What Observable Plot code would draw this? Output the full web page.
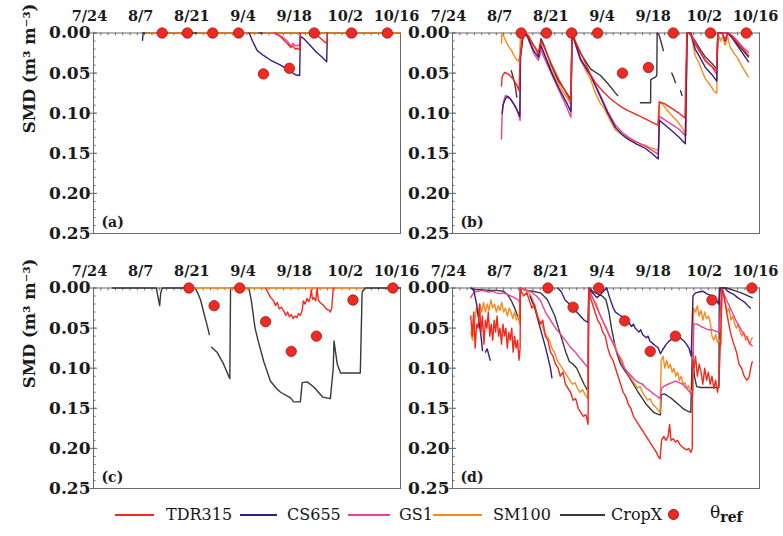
<!DOCTYPE html>
<html><head><meta charset="utf-8">
<script src="https://cdn.jsdelivr.net/npm/d3@7"></script>
<script src="https://cdn.jsdelivr.net/npm/@observablehq/plot@0.6"></script>
<style>
body{margin:0;background:#fff;}
#wrap{position:relative;width:783px;height:536px;overflow:hidden;font-family:"DejaVu Serif",serif;background:#fff;}
.panel{position:absolute;}
.sw{position:absolute;height:0;border-top:2px solid;}
.lt{position:absolute;font-size:16px;color:#151515;line-height:20px;white-space:nowrap;}
.dotl{position:absolute;width:11px;height:11px;border-radius:50%;background:#ee2a22;border:1px solid #9a1a14;box-sizing:border-box;}
</style></head><body><div id="wrap"></div>
<script>
// ---- axis / category definitions ----
const tickDays = [0, 14, 28, 42, 56, 70, 84];
const tickLabels = ["7/24", "8/7", "8/21", "9/4", "9/18", "10/2", "10/16"];
const yTicks = [0, 0.05, 0.10, 0.15, 0.20, 0.25];
const yTickLabels = ["0.00", "0.05", "0.10", "0.15", "0.20", "0.25"];
const sensors = ["TDR315", "CS655", "GS1", "SM100", "CropX"];
const colors = {TDR315: "#f5281c", CS655: "#3b1c7a", GS1: "#ec3d9c", SM100: "#fb8a1d", CropX: "#383838"};

// ---- reference SMD (theta_ref), days after 7/24 ----
const REF_AB_T = [18.8, 25.7, 32.6, 39.7, 46.5, 53.6, 60.4, 70.6, 80.4];
const REF_A_V = [0, 0, 0, 0, 0.051, 0.044, 0, 0, 0];
const REF_B_V = [0, 0, 0, 0, 0.050, 0.043, 0, 0, 0];
const REF_CD_T = [26.1, 33.0, 40.0, 47.1, 54.1, 61.0, 71.0, 81.9];
const REF_C_V = [0, 0.022, 0, 0.042, 0.079, 0.060, 0.015, 0];
const REF_D_V = [0, 0.024, 0, 0.041, 0.079, 0.060, 0.015, 0];

// ---- panel (a) [day, SMD] ----
const A_TDR315 = [[49.8,0],[51.5,0.006],[52.5,0.011],[53.2,0.014],[54,0.018],[54.6,0.016],[55.2,0.02],[55.8,0.019],[56.4,0.021],[56.6,0],[57,null],[60.2,0],[61.5,0.004],[62.5,0.008],[63.5,0.012],[63.9,0.013],[64,0]];
const A_CS655 = [[13.4,0.009],[13.6,0],[14,0],[14.1,null],[42.6,0],[43.5,0.01],[44.8,0.022],[46.5,0.028],[48.5,0.034],[51.2,0.04],[53.9,0.048],[55.2,0.052],[56.4,0.053],[56.6,0.004],[57.5,0.007],[59,0.014],[61,0.024],[62.5,0.03],[63.8,0.036],[64,0]];
const A_GS1 = [[49.2,0],[50.5,0.002],[51.7,0.005],[53,0.01],[53.9,0.016],[54.6,0.013],[55.3,0.016],[56.4,0.015],[56.6,0]];
const A_SM100 = [[13.4,0],[27,0],[27.3,null],[28.5,0],[45,0],[45.3,null],[46.5,0],[84,0]];
const A_CropX = [[13.4,0],[84,0]];

// ---- panel (b) ----
const B_TDR315 = [[13.4,0.066],[13.6,0.054],[14.3,0.049],[15.5,0.052],[16.5,0.057],[17.5,0.064],[18.2,0.072],[18.5,0.03],[19.2,0],[20.5,0.002],[22,0.014],[23.5,0.024],[24.1,0.01],[25,0.017],[27,0.038],[29,0.057],[31,0.074],[32.4,0.086],[32.7,0],[34,0.014],[36,0.034],[37.8,0.052],[39.1,0.062],[41,0.072],[43,0.081],[44.6,0.087],[46.5,0.093],[48.2,0.097],[50.5,0.102],[52.8,0.107],[54.5,0.111],[56.2,0.115],[56.6,0.086],[58,0.088],[60,0.094],[62,0.1],[63.6,0.106],[64.1,0],[65,0],[66.4,0.014],[68,0.026],[69.2,0.035],[71,0.042],[72.3,0.048],[72.6,0],[73.8,0],[74.6,0.008],[75.3,0],[76.5,0.004],[78,0.012],[79.5,0.02],[81,0.028]];
const B_CS655 = [[13.6,0.1],[13.8,0.09],[14.5,0.082],[15,0.079],[16,0.083],[17,0.09],[18.1,0.1],[18.4,0.104],[18.6,0.03],[19.4,0],[20.5,0.004],[22.2,0.022],[23.5,0.03],[24.1,0.015],[25,0.025],[27,0.048],[29,0.068],[31,0.085],[32.4,0.098],[32.7,0],[35,0.032],[37.8,0.053],[40.5,0.08],[42.5,0.1],[44.6,0.118],[46.5,0.127],[48.2,0.133],[50.5,0.139],[52.8,0.144],[54.5,0.15],[56.3,0.157],[56.6,0.109],[58,0.114],[60,0.122],[62,0.13],[63.7,0.138],[64.2,0],[65.2,0],[66.4,0.02],[68,0.033],[69.2,0.043],[71,0.052],[72.3,0.06],[72.6,0],[73.8,0],[74.6,0.01],[75.3,0],[76.5,0.006],[78,0.016],[79.5,0.026],[81,0.036]];
const B_GS1 = [[13.4,0.132],[13.6,0.1],[14,0.085],[14.5,0.078],[15.5,0.08],[16.5,0.087],[17.5,0.095],[18.3,0.105],[18.5,0.109],[18.6,0.03],[19.4,0],[20.5,0.005],[22.2,0.025],[23.5,0.034],[24.1,0.02],[25,0.03],[27,0.05],[29,0.07],[31,0.09],[32.4,0.105],[32.7,0],[35,0.034],[37.8,0.053],[40.5,0.078],[42.5,0.098],[44.6,0.115],[46.5,0.124],[48.2,0.13],[50.5,0.136],[52.8,0.141],[54.5,0.146],[56.3,0.151],[56.6,0.104],[58,0.108],[60,0.114],[62,0.12],[63.7,0.128],[64.2,0],[65.2,0],[66.4,0.012],[68,0.025],[69.2,0.034],[71,0.042],[72.3,0.052],[72.6,0],[73.8,0],[75.3,0],[76.5,0.003],[78,0.01],[79.5,0.018],[81,0.024]];
const B_SM100 = [[13.4,0.013],[13.5,0],[14,0.004],[14.8,0.012],[15.5,0.018],[16.2,0.022],[16.8,0.028],[17.5,0.033],[18,0.035],[18.4,0.03],[18.6,0],[20,0],[21,0.004],[22.5,0.018],[23.8,0.028],[24.2,0.015],[25.5,0.03],[27.5,0.05],[29.5,0.068],[31.5,0.082],[32.4,0.09],[32.7,0],[33.5,0.012],[35,0.032],[36.5,0.047],[37.8,0.058],[39,0.074],[40.5,0.088],[41.5,0.094],[42.5,0.103],[43.5,0.112],[44.6,0.121],[45.5,0.124],[46.5,0.127],[47.5,0.13],[48.2,0.131],[49.5,0.135],[50.5,0.136],[51.5,0.139],[52.8,0.14],[54,0.143],[55,0.144],[56,0.146],[56.4,0.145],[56.6,0.086],[57.5,0.089],[58.5,0.095],[60,0.103],[61.5,0.11],[63,0.119],[63.9,0.128],[64.2,0],[65.2,0],[66.4,0.028],[67.5,0.038],[68.5,0.05],[69.2,0.057],[70.5,0.065],[71.5,0.072],[72.3,0.075],[72.6,0],[73.3,0.01],[73.8,0.005],[74.6,0.015],[75.3,0.005],[76,0.018],[77,0.025],[78,0.031],[79,0.04],[80.2,0.049],[81,0.055]];
const B_CropX = [[16.1,0.047],[16.5,0.054],[17,0.062],[17.6,0.08],[17.7,null],[19.5,0],[21,0.006],[22.5,0.018],[23.8,0.03],[24.2,0.007],[25,0.015],[27,0.04],[29,0.06],[31,0.073],[32.4,0.083],[32.7,0],[33.5,0.01],[35,0.025],[37.8,0.045],[40.5,0.053],[42.5,0.063],[44.6,0.075],[45.2,0.078],[45.3,null],[51.4,0.087],[54.2,0.087],[54.25,0.058],[55.5,0.055],[55.9,0.053],[56,0],[56.5,0.002],[57,0.01],[57.7,0.022],[57.8,null],[60,0.05],[60.5,0.055],[61,0.062],[61.1,null],[62.4,0.072],[62.8,0.078],[62.9,null],[64.7,0],[66.4,0.01],[68,0.022],[69.2,0.03],[71,0.038],[72.3,0.045],[72.6,0],[73.8,0],[75.3,0],[76.5,0.005],[78,0.014],[79.5,0.022],[81,0.03]];

// ---- panel (c) ----
const C_TDR315 = [[47.1,0],[47.8,0.006],[48.5,0.012],[49.3,0.016],[49.8,0.022],[50.3,0.018],[50.8,0.026],[51.4,0.024],[52.1,0.029],[52.6,0.034],[53.1,0.03],[53.6,0.036],[54.1,0.033],[54.6,0.038],[55.1,0.035],[55.6,0.037],[56.1,0.032],[56.6,0.034],[57.1,0.028],[57.4,0.016],[57.9,0.02],[58.4,0.013],[58.9,0.017],[59.3,0.012],[59.6,0.002],[59.9,0.014],[60.3,0.012],[60.8,0.016],[61.2,0],[61.5,0.015],[62,0.018],[62.5,0.02],[63,0.022],[63.5,0.025],[64,0.027],[64.5,0.028],[64.8,0.03],[65.2,0.025],[65.6,0]];
const C_SM100 = [[27,0],[73.5,0]];
const C_CropX = [[5.1,0],[17.2,0],[17.6,0.01],[18.1,0.022],[18.4,0.006],[18.8,0],[27.8,0],[28.5,0.006],[29.3,0.015],[30.3,0.033],[31,0.045],[31.7,0.058],[31.8,null],[32.3,0.074],[33.8,0.08],[35.6,0.095],[37.3,0.113],[37.5,0],[42.5,0],[43.2,0.016],[44.2,0.05],[45,0.065],[46.6,0.092],[48.4,0.116],[50,0.125],[51.2,0.13],[53.9,0.137],[54.8,0.142],[56.6,0.142],[57.1,0.118],[58.5,0.117],[60.4,0.124],[62.7,0.136],[64.8,0.138],[65.6,0.1],[65.8,0.066],[66.7,0.095],[67.6,0.106],[73,0.106],[73.5,0.005],[74.4,0],[84,0]];

// ---- panel (d) ----
const D_TDR315 = [[5,0.035],[5.4,0.06],[5.8,0.03],[6.2,0.075],[6.6,0.045],[7,0.05],[7.4,0.02],[7.8,0.055],[8.2,0.035],[8.6,0.07],[9,0.04],[9.4,0.05],[9.8,0.03],[10.2,0.06],[10.6,0.045],[11,0.065],[11.4,0.04],[11.8,0.055],[12.2,0.035],[12.6,0.06],[13,0.05],[13.4,0.07],[13.8,0.045],[14.2,0.06],[14.6,0.05],[15,0.075],[15.4,0.055],[15.8,0.065],[16.2,0.05],[16.6,0.08],[17,0.06],[17.4,0.075],[17.8,0.065],[18.2,0.09],[18.5,0.075],[18.6,0],[18.7,0.003],[19.5,0.01],[20.3,0.006],[21,0.015],[21.7,0.025],[22.4,0.02],[23.2,0.035],[24,0.045],[24.7,0.04],[25.4,0.06],[26.1,0.065],[26.8,0.08],[27.5,0.085],[28.2,0.095],[28.9,0.1],[29.5,0.11],[30.2,0.105],[30.9,0.12],[31.6,0.125],[32.3,0.13],[33,0.14],[33.7,0.138],[34.4,0.15],[35.1,0.155],[35.8,0.16],[36.5,0.158],[37.1,0.17],[37.3,0],[37.6,0.01],[38.3,0.02],[39,0.03],[39.7,0.04],[40.4,0.045],[41.1,0.055],[41.8,0.06],[42.5,0.075],[43.2,0.085],[43.9,0.09],[44.6,0.1],[45.3,0.11],[46,0.12],[46.7,0.13],[47.4,0.135],[48.1,0.145],[48.8,0.15],[49.5,0.16],[50.2,0.165],[50.9,0.17],[51.6,0.175],[52.3,0.18],[53,0.185],[53.7,0.19],[54.4,0.195],[55.1,0.2],[55.8,0.205],[56.3,0.21],[56.8,0.213],[57.2,0.19],[57.8,0.185],[58.4,0.19],[59,0.185],[59.4,0.17],[59.8,0.19],[60.4,0.188],[61,0.192],[61.6,0.19],[62.2,0.195],[62.8,0.198],[63.4,0.2],[64,0.202],[64.6,0.2],[65.2,0.205],[65.6,0.2],[65.7,0.09],[66.1,0.1],[66.5,0.085],[67,0.11],[67.5,0.095],[68,0.105],[68.5,0.12],[69,0.1],[69.5,0.115],[70,0.105],[70.5,0.12],[71,0.11],[71.5,0.125],[72,0.115],[72.5,0.13],[72.9,0.12],[73.8,0],[74.3,0.01],[75,0.03],[75.6,0.045],[76.3,0.06],[77,0.07],[77.7,0.08],[78.4,0.095],[79.1,0.1],[79.8,0.11],[80.5,0.115],[81.1,0.112],[81.6,0.1],[82,0.092]];
const D_CS655 = [[5,0],[5.8,0.003],[6.6,0.02],[7.2,0.04],[7.8,0.06],[8.2,0.078],[8.3,null],[9,0.08],[9.5,0.076],[10.3,0.09],[10.4,null],[21.2,0.01],[22.5,0.025],[24,0.05],[25.5,0.075],[26.8,0.1],[27.2,0.112],[27.3,null],[28.8,0],[29.8,0.005],[30.8,0.015],[32,0.02],[33,0.026],[34,0.03],[35,0.035],[36,0.04],[37.1,0.043],[37.3,0],[38.3,0.006],[39.5,0.012],[40.5,0.008],[41.5,0.003],[42.2,0],[43,0.012],[44,0.025],[44.6,0.03],[45.5,0.033],[46.5,0.036],[47.3,0.04],[48.2,0.043],[49,0.048],[49.5,0.045],[50,0.05],[51,0.055],[51.5,0.052],[52,0.058],[53,0.062],[53.5,0.06],[54,0.066],[55,0.07],[55.5,0.072],[56.2,0.074],[56.9,0.082],[57.5,0.077],[58.5,0.07],[59.3,0.066],[60,0.064],[60.7,0.062],[61.3,0.06],[62,0.062],[62.5,0.063],[63.3,0.066],[64,0.07],[64.7,0.075],[65.3,0.085],[65.8,0.01],[66.5,0.006],[67.5,0.005],[68.5,0.004],[69.5,0.007],[70.5,0.009],[71.5,0.012],[72.3,0.016],[72.8,0.02],[73.3,0],[74.5,0],[75.3,0.004],[76,0.006],[77,0.008],[78,0.012],[79,0.015],[80,0.018],[80.8,0.022],[81.5,0.025]];
const D_GS1 = [[5,0.012],[5.5,0.008],[6,0.005],[7,0.004],[8,0.003],[9,0.004],[10,0.005],[11,0.004],[12,0.006],[13,0.007],[14,0.006],[15,0.008],[16,0.01],[17,0.012],[18,0.015],[18.5,0.02],[18.6,0],[20,0.002],[21.5,0.005],[23,0.01],[24.1,0.016],[25.4,0.03],[26.8,0.04],[28.2,0.05],[29.6,0.058],[31,0.066],[32.3,0.074],[33.6,0.08],[35,0.088],[36.3,0.095],[37.1,0.1],[37.3,0],[38,0.008],[39,0.02],[40,0.03],[41,0.04],[42,0.05],[43,0.06],[44,0.07],[45,0.08],[46,0.09],[47,0.1],[48,0.105],[49,0.11],[50,0.115],[51,0.118],[52,0.12],[53,0.125],[54,0.128],[55,0.132],[56,0.135],[56.8,0.138],[57.2,0.125],[58,0.122],[59,0.12],[60,0.118],[61,0.116],[62,0.118],[63,0.12],[64,0.125],[65,0.13],[65.7,0.135],[66,0.045],[67,0.045],[68,0.048],[69,0.05],[70,0.052],[71,0.052],[72,0.054],[73,0.055],[73.6,0],[74.5,0.01],[75.5,0.02],[76.5,0.03],[77.5,0.04],[78.5,0.048],[79.5,0.056],[80.5,0.062],[81.5,0.07],[82,0.072]];
const D_SM100 = [[5,0.055],[5.5,0.065],[6,0.045],[6.5,0.025],[7,0.035],[7.5,0.02],[8,0.03],[8.5,0.018],[9,0.03],[9.5,0.02],[10,0.028],[10.5,0.015],[11,0.025],[11.5,0.02],[12,0.03],[12.5,0.022],[13,0.028],[13.5,0.018],[14,0.03],[14.5,0.025],[15,0.035],[15.5,0.025],[16,0.03],[16.5,0.038],[17,0.03],[17.5,0.04],[18,0.035],[18.4,0.045],[18.6,0],[19.5,0.002],[20.5,0.005],[21.5,0.01],[22.2,0.018],[23,0.03],[23.7,0.04],[24.4,0.045],[25.1,0.055],[25.8,0.06],[26.5,0.065],[27.2,0.075],[27.9,0.08],[28.6,0.09],[29.3,0.095],[30,0.1],[30.7,0.105],[31.4,0.11],[32.1,0.115],[32.8,0.12],[33.5,0.118],[34.2,0.125],[34.9,0.13],[35.6,0.127],[36.3,0.133],[37,0.138],[37.3,0.005],[38,0.01],[38.7,0.015],[39.4,0.02],[40.1,0.03],[40.8,0.038],[41.5,0.045],[42.2,0.05],[42.9,0.06],[43.6,0.065],[44.3,0.07],[45,0.08],[45.7,0.085],[46.4,0.09],[47.1,0.1],[47.8,0.105],[48.5,0.11],[49.2,0.115],[49.9,0.12],[50.6,0.125],[51.3,0.123],[52,0.13],[52.7,0.135],[53.4,0.14],[54.1,0.138],[54.8,0.145],[55.5,0.148],[56.2,0.152],[56.8,0.155],[57.1,0.09],[57.6,0.085],[58.1,0.1],[58.6,0.09],[59.1,0.1],[59.6,0.095],[60.1,0.105],[60.6,0.1],[61.1,0.11],[61.6,0.105],[62.1,0.115],[62.6,0.11],[63.1,0.12],[63.6,0.118],[64.1,0.125],[64.6,0.122],[65.2,0.13],[65.7,0.127],[66,0.025],[66.5,0.03],[67,0.022],[67.5,0.035],[68,0.028],[68.5,0.04],[69,0.03],[69.5,0.038],[70,0.035],[70.5,0.042],[71,0.06],[71.5,0.065],[72,0.058],[72.5,0.068],[73,0.065],[73.5,0.07],[73.7,0],[74.2,0.01],[74.7,0.02],[75.2,0.03],[75.7,0.025],[76.2,0.04],[76.7,0.035],[77.2,0.045],[77.7,0.05],[78.2,0.045],[78.7,0.055],[79.2,0.06],[79.7,0.055],[80.2,0.065],[80.7,0.06],[81.2,0.07],[81.7,0.065],[82,0.062]];
const D_CropX = [[5.3,0],[6,0.002],[8,0.002],[10,0.003],[12,0.003],[14,0.004],[15,0.008],[16,0.015],[17,0.025],[17.8,0.035],[18.3,0.04],[18.5,0],[20,0.003],[22,0.004],[24,0.006],[25,0.01],[26,0.015],[27,0.025],[28,0.035],[29,0.05],[30,0.065],[31,0.08],[32,0.092],[33,0.095],[34,0.1],[35,0.11],[36,0.12],[37,0.128],[37.3,0],[38,0.003],[39,0.006],[40,0.008],[41,0.01],[42,0.015],[42.8,0.03],[43.5,0.05],[44.3,0.068],[45,0.082],[46,0.095],[47,0.102],[48.2,0.11],[49.5,0.12],[50.8,0.13],[52,0.138],[53,0.145],[54,0.15],[55,0.155],[56.5,0.158],[56.9,0.158],[57.1,0.133],[58,0.132],[59,0.135],[60,0.138],[61,0.142],[62,0.146],[63,0.15],[64,0.153],[65.2,0.155],[65.6,0.08],[66.2,0.11],[66.8,0.123],[68,0.124],[70,0.124],[72,0.124],[72.9,0.124],[73,0],[75,0],[77,0.003],[79,0.006],[81,0.01],[82,0.012]];

// ---- helpers ----
const base = Date.UTC(2016, 6, 24);
const day = t => new Date(base + t * 864e5);
const toRows = arr => arr.map(([t, v]) => ({date: day(t), v: v}));
const minorX = d3.range(0, 85, 2);
const minorY = d3.range(0, 26).map(i => i / 100);
const axisGray = "#6a6a6a";
const ink = "#1a1a1a";

function panel({series, refT, refV, tag, yTitle, width, marginLeft, marginRight}) {
  const drawOrder = ["CropX", "SM100", "GS1", "CS655", "TDR315"];
  const lines = drawOrder.filter(s => series[s]).map(s =>
    Plot.line(toRows(series[s]), {x: "date", y: "v", stroke: colors[s], strokeWidth: 1.4, strokeLinejoin: "round"}));
  const refs = refT.map((t, i) => ({date: day(t), v: refV[i]}));
  const marks = [
    Plot.frame({stroke: axisGray}),
    Plot.ruleY(minorY, {y: d => d, x1: day(0), x2: day(0.7), stroke: axisGray}),
    Plot.ruleY(yTicks, {y: d => d, x1: day(0), x2: day(1.1), stroke: axisGray}),
    Plot.ruleX(minorX, {x: d => day(d), y1: 0, y2: 0.0035, stroke: axisGray}),
    ...lines,
    Plot.dot(refs, {x: "date", y: "v", r: 5.2, fill: "#ee2a22", stroke: "#9a1a14", strokeWidth: 0.8}),
    Plot.text(tickDays, {x: d => day(d), frameAnchor: "top", dy: -12, dx: -4, text: (d, i) => tickLabels[i], fontSize: 14.5, fontWeight: "bold", lineAnchor: "bottom", fill: ink}),
    Plot.text(yTicks, {y: d => d, frameAnchor: "left", dx: -3, text: (d, i) => yTickLabels[i], fontSize: 17, fontWeight: "bold", textAnchor: "end", lineAnchor: "middle", fill: ink}),
    Plot.text([tag], {text: d => d, frameAnchor: "bottom-left", dx: 8, dy: -7, fontSize: 14, fontWeight: "bold", textAnchor: "start", lineAnchor: "bottom", fill: ink})
  ];
  if (yTitle) marks.push(Plot.text([yTitle], {text: d => d, frameAnchor: "left", dx: -64, rotate: -90, fontSize: 16.5, fontWeight: "bold", lineAnchor: "middle", fill: ink}));
  return Plot.plot({
    width, height: 240,
    marginLeft, marginRight, marginTop: 32.5, marginBottom: 7,
    x: {type: "utc", domain: [day(0), day(84)], axis: null},
    y: {domain: [0, 0.25], reverse: true, ticks: yTicks, tickFormat: () => "", tickSize: 3, tickPadding: 1, label: null},
    style: {background: "transparent", overflow: "visible", fontFamily: "'DejaVu Serif', serif", fontWeight: "bold", fontSize: "15px", color: axisGray},
    marks
  });
}

const wrap = document.getElementById("wrap");
function place(svg, left, top) {
  const d = document.createElement("div");
  d.className = "panel"; d.style.left = left + "px"; d.style.top = top + "px";
  d.appendChild(svg); wrap.appendChild(d);
}
const yTitle = "SMD (m³ m⁻³)";
place(panel({series: {TDR315: A_TDR315, CS655: A_CS655, GS1: A_GS1, SM100: A_SM100, CropX: A_CropX}, refT: REF_AB_T, refV: REF_A_V, tag: "(a)", yTitle, width: 410, marginLeft: 93, marginRight: 10}), 0, 0);
place(panel({series: {TDR315: B_TDR315, CS655: B_CS655, GS1: B_GS1, SM100: B_SM100, CropX: B_CropX}, refT: REF_AB_T, refV: REF_B_V, tag: "(b)", yTitle: null, width: 383, marginLeft: 52, marginRight: 24}), 400, 0);
place(panel({series: {TDR315: C_TDR315, SM100: C_SM100, CropX: C_CropX}, refT: REF_CD_T, refV: REF_C_V, tag: "(c)", yTitle, width: 410, marginLeft: 93, marginRight: 10}), 0, 254.5);
place(panel({series: {TDR315: D_TDR315, CS655: D_CS655, GS1: D_GS1, SM100: D_SM100, CropX: D_CropX}, refT: REF_CD_T, refV: REF_D_V, tag: "(d)", yTitle: null, width: 383, marginLeft: 52, marginRight: 24}), 400, 254.5);

// ---- legend ----
const legendPos = {TDR315: [115, 154, 166], CS655: [240, 277, 287], GS1: [348, 390, 399], SM100: [433, 482, 493], CropX: [560, 605, 611]};
const ly = 515;
sensors.forEach(s => {
  const [x1, x2, tx] = legendPos[s];
  const sw = document.createElement("div");
  sw.className = "sw"; sw.style.left = x1 + "px"; sw.style.width = (x2 - x1) + "px"; sw.style.top = (ly - 1) + "px"; sw.style.borderColor = colors[s];
  wrap.appendChild(sw);
  const t = document.createElement("div");
  t.className = "lt"; t.style.left = tx + "px"; t.style.top = (ly - 10) + "px"; t.textContent = s;
  wrap.appendChild(t);
});
const dl = document.createElement("div");
dl.className = "dotl"; dl.style.left = "667.5px"; dl.style.top = (ly - 6) + "px";
wrap.appendChild(dl);
const th = document.createElement("div");
th.className = "lt"; th.style.left = "710px"; th.style.top = (ly - 13) + "px"; th.style.fontSize = "17px";
th.innerHTML = "θ<sub style='font-size:14px;font-weight:bold'>ref</sub>";
wrap.appendChild(th);
</script>
</body></html>
